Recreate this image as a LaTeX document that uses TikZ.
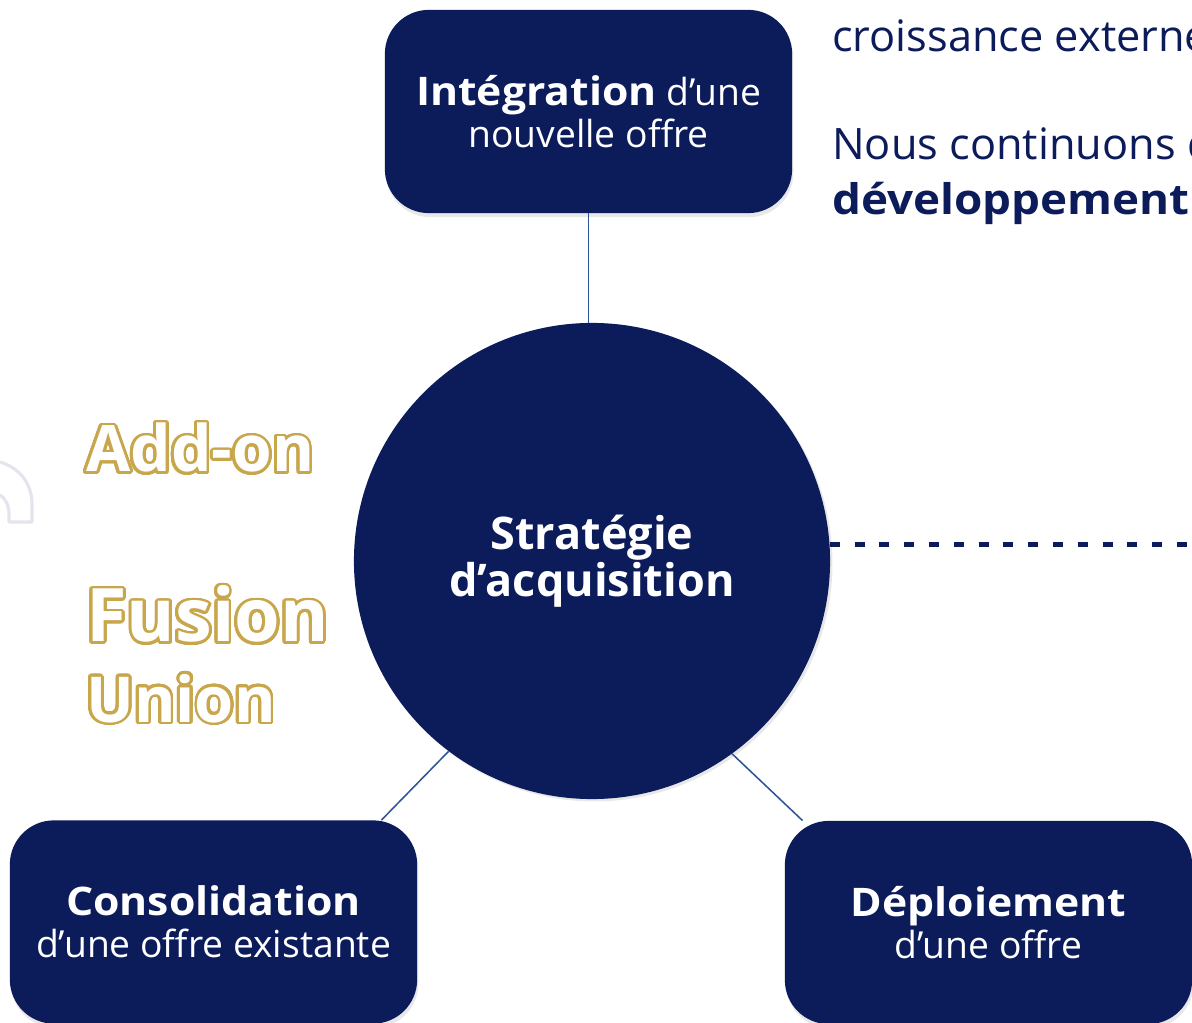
\documentclass[tikz,border=0pt]{standalone}
\usepackage{fontspec}
\setmainfont{Open Sans}
\usepackage{contour}
\usetikzlibrary{shadows}
\definecolor{navy}{RGB}{12,28,91}
\definecolor{linkblue}{RGB}{47,85,151}
\definecolor{gold}{RGB}{200,166,76}
\definecolor{lightgrey}{RGB}{226,229,238}
\contourlength{2pt}
\contournumber{32}
\newcommand{\widebold}[1]{{\bfseries\addfontfeature{FakeStretch=1.085}#1}}

\begin{document}
\begin{tikzpicture}[x=0.025cm,y=-0.025cm,
  offerbox/.style={draw=none, fill=navy, rounded corners=1.1cm, minimum width=10.18cm,
    minimum height=5.08cm, text=white, align=center,
    drop shadow={opacity=0.18, shadow xshift=0.03cm, shadow yshift=-0.1cm},
    font=\fontsize{26.5}{30}\selectfont},
  hub/.style={circle, draw=none, fill=navy, minimum size=11.9cm, text=white, align=center,
    drop shadow={opacity=0.18, shadow xshift=0.06cm, shadow yshift=-0.06cm},
    font=\bfseries\fontsize{32}{33}\selectfont},
  link/.style={draw=linkblue, line width=1.1pt},
  dashlink/.style={draw=navy, line width=3.6pt, dash pattern=on 0.25cm off 0.37cm},
  goldword/.style={anchor=base west, inner sep=0pt, font=\bfseries},
  intro/.style={anchor=base west, inner sep=0pt, text=navy, font=\fontsize{30.8}{38.4}\selectfont}]
\clip (0,0) rectangle (1192,1023);
\fill[white] (0,0) rectangle (1192,1023);

\draw[lightgrey, line width=2.2pt, line join=round] (0,462) .. controls (20,468) and (32,484) .. (32,504)
  -- (32,522) -- (9,522) -- (9,514) .. controls (9,505) and (5,498) .. (0,495);

\node[intro] (croiss) at (832,52) {croissance externe};
\node[intro] (nous) at (832,160) {Nous continuons de};
\node[intro] (devel) at (832,215) {\fontsize{30}{38.4}\selectfont\widebold{développement}};

\node[goldword, font=\bfseries\fontsize{45.6}{50}\selectfont] (addon) at (86,472) {\contour{gold}{\textcolor{white}{Add-on}}};
\node[goldword, font=\bfseries\fontsize{52.5}{56}\selectfont] (fusion) at (86,642) {\contour{gold}{\textcolor{white}{Fusion}}};
\node[goldword, font=\bfseries\fontsize{45}{52}\selectfont] (union) at (86,722) {\contour{gold}{\textcolor{white}{Union}}};

\node[offerbox] (integ) at (588.5,111.5) {{\fontsize{28}{30}\selectfont\widebold{Intégration}} d’une\\nouvelle offre};
\node[hub] (strat) at (592,561) {Stratégie\\d’acquisition};
\node[offerbox] (conso) at (213.5,922) {{\fontsize{28}{30}\selectfont\widebold{Consolidation}}\\d’une offre existante};
\node[offerbox] (deploi) at (988.5,922.5) {{\fontsize{28}{30}\selectfont\widebold{Déploiement}}\\d’une offre};

\coordinate (consoend) at ([xshift=-0.9cm]conso.north east);
\coordinate (deploiend) at ([xshift=0.45cm]deploi.north west);
\coordinate (dashend) at (1200,545);

\draw[link] (integ.south) -- (integ.south |- strat.north);
\draw[link] (strat.233) -- (consoend);
\draw[link] (strat.306) -- (deploiend);
\draw[dashlink] (strat.4) -- (dashend |- strat.4);
\end{tikzpicture}
\end{document}
